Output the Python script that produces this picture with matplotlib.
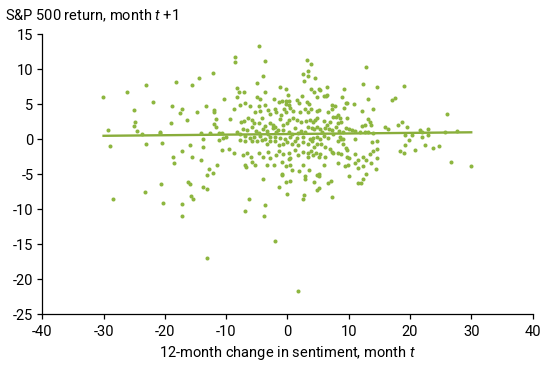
import numpy as np
import matplotlib
matplotlib.use("Agg")
from matplotlib import pyplot as plt

# Data (x = 12-month change in sentiment, y = S&P 500 return next month)

# left side, above zero
left_up_x = [-30.1, -29.3, -26.2, -25.0, -24.9, -25.1, -24.6, -23.7, -23.1, -22.0, -20.8, -20.8,
             -18.1, -18.9, -17.2, -17.6, -19.0, -16.4, -15.6, -14.5, -14.8, -13.3, -14.1, -13.8]
left_up_y = [6.1, 1.4, 6.8, 4.2, 2.5, 1.9, 1.2, 0.8, 7.7, 5.3, 0.9, 1.1,
             8.2, 4.8, 4.4, 3.7, 2.4, 2.8, 7.8, 8.7, 3.9, 4.8, 0.9, 0.1]

# left side, below zero
left_dn_x = [-29.0, -23.0, -20.5, -15.9, -13.8, -17.2, -18.7, -18.5, -15.6, -14.1, -12.8, -13.2,
             -20.7, -16.3, -15.9, -13.7, -13.2, -23.3, -28.4, -15.8, -15.4, -20.3, -17.2, -17.2]
left_dn_y = [-0.9, -0.6, -0.5, -0.8, -1.1, -1.6, -2.5, -3.4, -2.5, -3.0, -4.3, -5.1,
             -6.4, -6.1, -6.4, -6.8, -7.1, -7.5, -8.5, -8.1, -8.5, -9.1, -9.2, -10.9]

# big drops
outlier_x = [-13.2, -2.0, 1.7]
outlier_y = [-16.9, -14.5, -21.6]

# middle, lower part
mid_dn_x = [-11.2, -11.5, -12.2, -0.9, 4.9, 5.1, 2.9, 2.9, 4.4, 7.1, 6.7, 10.1, 11.5, 12.0, 12.4,
            -4.0, -0.2, 0.4, -1.4, 5.1, 4.9, -0.1, 2.7, 2.5, 7.2, -6.3, -3.7, -7.0, -3.9]
mid_dn_y = [-0.1, -3.7, -4.8, -5.1, -5.1, -5.3, -5.3, -5.7, -6.1, -6.0, -6.3, -5.3, -6.2, -6.2, -5.7,
            -5.6, -6.1, -5.9, -6.8, -6.9, -7.2, -7.8, -8.0, -8.5, -8.2, -8.5, -9.4, -10.2, -10.9]

# right side
right_x = [19.2, 20.3, 22.0, 22.9, 19.8, 19.2, 18.4, 19.0, 20.8, 22.4, 23.8, 24.7, 26.7, 30.0,
           13.8, 14.6, 13.6, 12.8,
           14.6, 19.0, 17.1, 17.6, 26.0, 18.0, 18.7, 19.5, 21.6, 21.9, 22.9, 25.7, 27.6]
right_y = [0.6, 0.6, 0.4, 0.6, -0.1, -0.8, -1.7, -2.0, -1.5, -0.8, -1.2, -1.0, -3.2, -3.8,
           -0.4, -0.2, -3.4, -4.9,
           7.5, 7.6, 5.6, 5.9, 3.6, 2.0, 2.5, 1.8, 1.3, 1.1, 1.5, 1.1, 1.2]

# middle, upper part
mid_up_x = [-4.7, -8.6, -8.6, -3.7, -12.2, -4.0, -5.0, -8.3, -7.9, -7.1, -8.2, -10.4, -11.9, -12.0,
            -11.6, -11.9, -11.6, -7.8, -7.0, -5.0, -4.5, -3.7, -3.7,
            -1.2, -0.3, 0.1, -2.2, -1.4, -0.9, -0.2, 0.3, -0.3, 0.2,
            3.2, 3.9, 3.3, 2.5, 2.7, 3.4, 4.5, 3.8, 4.3, 5.1, 5.3, 6.4, 4.8, 2.4, 1.6, 1.9, 3.2, 3.6,
            6.0, 6.3, 6.5, 9.3, 8.9, 9.5, 9.7, 10.9, 12.3, 12.9, 13.1, 7.3,
            -12.6, -11.2]
mid_up_y = [13.4, 11.8, 11.0, 11.2, 9.5, 9.0, 8.1, 7.4, 6.7, 6.7, 6.1, 5.7, 4.2, 3.9,
            2.9, 2.2, 1.8, 4.9, 5.2, 6.0, 5.8, 6.7, 4.9,
            7.5, 7.2, 6.4, 5.8, 5.4, 5.5, 5.5, 5.5, 5.1, 4.9,
            11.3, 10.8, 9.8, 9.3, 8.4, 9.0, 8.8, 7.2, 6.7, 7.2, 7.0, 7.5, 6.0, 6.2, 5.6, 5.2, 5.4, 5.1,
            6.2, 6.2, 6.4, 7.2, 6.0, 5.2, 5.2, 5.1, 7.9, 10.3, 5.8, 4.9,
            0.9, 0.9]

# dense core, left half
core_l_x = [-8.7, -6.1, -4.6, -4.4, -5.3, -3.1, -2.1, -0.6, -0.2, 0.5, 0.9, 2.1, 2.9, 3.3, -2.8, -1.8, -1.1,
            -9.4, -7.6, -7.1, -6.4, -5.8, -5.4, -4.6, -4.2, -3.7, -2.8, -2.3, -2.0, -1.2, -0.7, -0.1, 0.3,
            0.9, 1.5, 2.3, 3.0,
            -7.2, -6.6, -5.8, -5.1, -4.7, -4.0, -3.4, -3.1, -2.4, -1.9, -1.5, -0.7, 0.2, 0.7, 1.2, 1.8, 2.3, 2.9,
            -10.7, -10.0, -8.3, -7.7, -6.9, -6.1, -5.4, -4.5, -3.7, -2.8, -2.0, -1.2, -0.4, 0.4, 1.5, 2.6,
            -10.5, -7.7, -6.9, -5.8, -5.0, -4.2, -3.4, -2.8, -2.0, -1.3, -0.7, -0.1, 0.7, 1.2, 1.8, 2.6, 3.3,
            -10.6, -9.6, -8.7, -7.3, -6.6, -6.0, -4.6, -4.0, -3.1, -2.8, -1.8, -1.3, -0.7, 0.2, 0.5, 1.2,
            1.8, 2.6, 3.3,
            -6.9, -6.8, -5.8, -5.3, -3.4, -2.2, -0.9, -0.2, 0.5, 1.9, 2.6, 0.2, -0.8, 0.7]
core_l_y = [4.3, 4.7, 4.7, 4.0, 3.9, 4.2, 4.4, 4.3, 3.9, 4.5, 4.1, 3.9, 4.3, 3.9, 3.6, 3.9, 3.5,
            2.9, 2.5, 2.6, 3.1, 2.8, 2.4, 2.3, 3.0, 1.9, 2.3, 2.0, 1.7, 2.9, 2.0, 2.3, 2.8,
            3.1, 2.8, 2.5, 2.6,
            1.5, 1.3, 1.8, 1.2, 0.9, 1.5, 1.2, 0.7, 1.6, 1.1, 1.3, 1.3, 1.1, 0.7, 1.6, 0.9, 1.2, 1.1,
            0.9, 0.4, 1.1, 0.7, 0.5, 0.2, 0.4, 0.5, 0.1, 0.4, 0.4, 0.2, 0.1, 0.4, 0.2, 0.4,
            0.2, -0.1, -0.3, -0.3, -0.2, -0.1, -0.6, -0.2, -0.3, -0.8, -0.6, -0.4, -0.7, -0.2, -0.8, -0.4, -0.7,
            -1.5, -1.4, -1.9, -2.2, -2.0, -2.5, -2.0, -2.5, -1.8, -2.6, -2.2, -1.7, -2.1, -1.9, -2.7, -1.5,
            -2.2, -1.8, -2.5,
            -3.7, -3.9, -3.2, -3.6, -3.6, -3.7, -3.2, -3.8, -3.6, -4.5, -3.7, -2.8, -4.9, -4.4]

# dense core, right half
core_r_x = [3.9, 4.8, 5.2, 6.7, 7.3, 7.7, 9.3, 12.1, 14.0,
            3.7, 4.1, 4.5, 4.9, 5.9, 6.4, 7.0, 7.5, 8.0, 8.3, 8.6, 9.8, 8.3, 8.8, 12.2, 13.2, 13.5, 13.7, 12.6,
            3.4, 4.0, 4.4, 4.9, 5.3, 5.6, 6.1, 6.8, 7.3, 7.9, 8.4, 9.1, 9.5, 10.1, 10.5, 11.0, 11.8, 12.6,
            13.2, 13.9, 15.9, 16.4,
            3.7, 4.2, 4.8, 5.3, 5.9, 6.7, 7.5, 8.6, 9.1, 11.1,
            4.0, 4.4, 4.8, 5.5, 6.1, 8.3, 8.8, 9.0, 9.5, 9.7,
            3.4, 3.9, 4.2, 4.6, 5.1, 5.3, 6.2, 7.0, 7.2, 7.5, 8.2, 8.7, 9.7, 10.0, 11.1, 11.5, 12.4, 12.9,
            13.5, 14.0, 14.6, 14.7,
            3.5, 5.1, 6.0, 8.3, 9.4, 9.9, 11.0, 11.5, 12.4, 14.4]
core_r_y = [4.3, 4.0, 4.2, 3.9, 4.4, 4.7, 4.5, 4.0, 4.4,
            2.8, 2.5, 2.8, 3.0, 2.6, 2.1, 2.5, 3.2, 3.2, 3.5, 3.0, 3.1, 2.3, 2.5, 1.9, 2.9, 2.5, 2.1, 2.0,
            1.8, 1.6, 1.5, 1.8, 1.5, 1.1, 1.6, 1.5, 1.3, 1.7, 1.2, 1.0, 1.6, 1.5, 1.3, 1.2, 1.1, 1.0,
            1.1, 0.9, 1.8, 1.5,
            0.1, 0.2, 0.4, 0.0, 0.5, 0.2, 0.7, 0.4, 0.0, 0.0,
            -0.3, -1.1, -0.6, -0.7, -1.1, -0.2, 0.0, -0.7, -1.3, -1.5,
            -2.0, -1.7, -2.2, -1.9, -2.5, -2.1, -2.5, -1.4, -1.8, -2.0, -1.9, -2.1, -2.5, -2.7, -2.1, -3.0, -2.5, -3.0,
            -2.1, -1.7, -1.4, -2.6,
            -4.4, -4.9, -3.6, -3.4, -3.8, -3.6, -3.4, -4.1, -3.8, -4.2]

# fitted line, end points
trend_x = [-30, 30]
trend_y = [0.5, 1.0]

x_ticks = [-40, -30, -20, -10, 0, 10, 20, 30, 40]
y_ticks = [-25, -20, -15, -10, -5, 0, 5, 10, 15]

DOT_GREEN = "#8db63f"
LINE_GREEN = "#89ad3b"

plt.rcParams["font.family"] = ["Roboto", "DejaVu Sans"]
plt.rcParams["mathtext.fontset"] = "custom"
plt.rcParams["mathtext.rm"] = "Roboto"
plt.rcParams["mathtext.it"] = "Roboto:italic"
plt.rcParams["axes.unicode_minus"] = False

xs = np.array(left_up_x + left_dn_x + outlier_x + mid_dn_x + right_x + mid_up_x + core_l_x + core_r_x)
ys = np.array(left_up_y + left_dn_y + outlier_y + mid_dn_y + right_y + mid_up_y + core_l_y + core_r_y)

W, H = 550, 365
fig = plt.figure(figsize=(W / 100, H / 100), dpi=100)
ax = fig.add_axes([42.3 / W, 1 - 314.3 / H, (532.5 - 42.3) / W, (314.3 - 34.3) / H])

ax.scatter(xs, ys, s=8.5, color=DOT_GREEN, linewidths=0, zorder=3)
ax.plot(trend_x, trend_y, color=LINE_GREEN, lw=1.7, zorder=2)

ax.set_xlim(-40, 40)
ax.set_ylim(-25, 15)
ax.set_xticks(x_ticks)
ax.set_yticks(y_ticks)

for side in ["top", "right"]:
    ax.spines[side].set_visible(False)
for side in ["left", "bottom"]:
    ax.spines[side].set_linewidth(0.9)
    ax.spines[side].set_color("black")

ax.tick_params(direction="out", length=3.4, width=0.9, labelsize=10.5, pad=3, colors="black")
ax.tick_params(axis="x", pad=4)

ax.set_xlabel("12-month change in sentiment, month $t$", fontsize=10.5, labelpad=4)
fig.text(5 / W, 1 - 20 / H, "S&P 500 return, month $t$ +1", fontsize=10.5, va="baseline", ha="left")

fig.savefig("out.png", dpi=100)
